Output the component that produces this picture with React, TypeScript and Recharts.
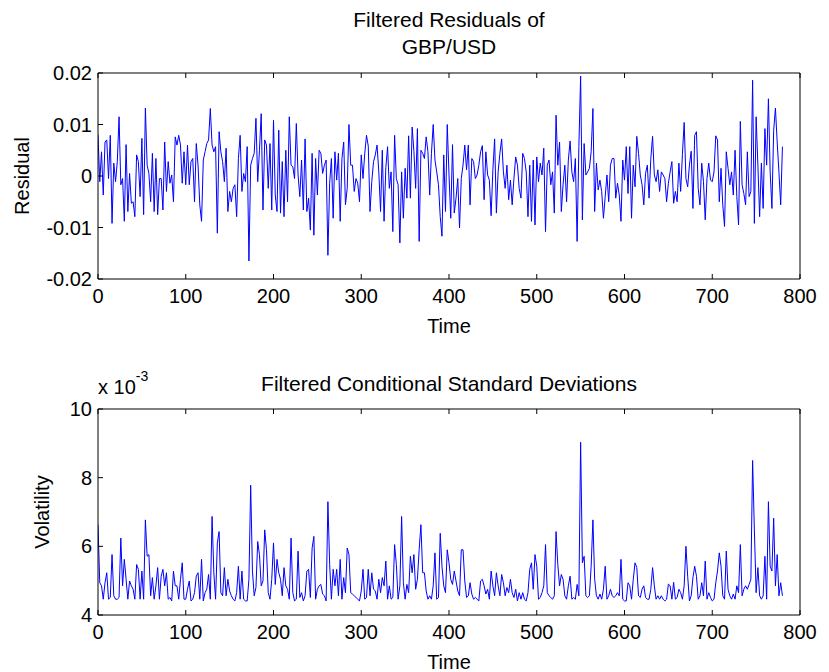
import { Line, LineChart, XAxis, YAxis } from "recharts";

// sampled every 2 time steps
const TIME_STEP = 2;
const timeTicks = [0, 100, 200, 300, 400, 500, 600, 700, 800];
const residualTicks = [-0.02, -0.01, 0, 0.01, 0.02];
const volTicks = [0.004, 0.006, 0.008, 0.01];

// residuals, in units of 1e-3
const residualMilli = [
  8, -1.1, 4.7, -3.7, 6.6, 7.0, -0.5, 7.9, -9.2, 2.5,
  -1.1, 2.8, 11.5, -1.7, -0.5, -8.8, 6.1, -6.9, 0.5, -5.3,
  -5.0, -7.9, 4.1, 2.8, -4.0, 7.3, -7.5, 13.2, 2.1, 0.5,
  -5.0, 4.4, -6.9, 3.4, -7.5, -0.5, -0.5, -6.6, 6.6, -3.0,
  2.8, -1.4, 0.2, -5.0, 7.6, 6.0, 7.9, 6.0, -1.4, 4.7,
  -1.7, 6.0, -1.7, 2.8, 3.4, -5.0, 6.3, 2.1, -5.6, -8.8,
  3.1, 4.7, 6.3, 7.0, 13.1, 6.0, 4.7, 5.7, -11.1, 8.6,
  4.7, 2.8, -1.1, 5.4, -6.9, -3.0, -5.0, -2.4, -1.7, -7.9,
  3.4, 7.9, -3.0, 0.5, -1.1, 5.7, -16.5, 2.1, 3.4, 4.4,
  11.2, -1.1, 5.0, 12.1, -6.6, 7.0, 6.0, -2.4, 6.3, -6.6,
  10.8, -3.7, -6.9, 8.9, -7.2, 2.8, -7.9, 5.0, -5.0, 11.5,
  2.1, 1.8, -0.5, 10.2, 0.2, -4.0, 3.1, -6.6, 7.2, -6.9,
  -4.3, -10.5, 4.4, -11.5, 3.4, -3.7, 5.0, 4.4, 0.5, 2.1,
  3.1, -15.4, -1.4, 3.4, -8.2, 4.7, -0.8, 4.4, -8.8, 3.4,
  6.6, -5.6, -2.4, 10.0, 2.1, 2.1, -3.0, -0.5, -1.4, -5.0,
  4.1, -0.5, 4.4, 7.9, 5.8, -6.9, -1.1, 2.8, 4.1, 6.0,
  0.8, -6.9, 5.0, -8.8, 1.6, 5.7, -2.4, 0.8, -10.8, 7.9,
  -0.5, -1.7, -13.0, 0.8, -8.2, 1.5, -4.3, 7.8, -4.3, 9.5,
  4.8, -2.4, 9.2, -12.7, 5.0, 4.4, 3.4, 7.6, 4.7, -3.7,
  4.4, 10.0, 3.1, 0.8, -1.7, -7.9, -11.7, 4.1, -6.9, 10.0,
  0.2, -8.2, 6.1, -7.2, -4.3, -0.5, -10.1, -0.5, 2.1, 6.0,
  1.2, 6.0, -5.6, 3.4, 2.8, -0.5, 0.2, 2.1, 4.7, 5.9,
  -4.6, 4.7, 0.2, -0.8, -7.7, 1.2, 7.2, -7.2, 0.8, 4.4,
  7.2, 0.8, -2.4, 2.1, -4.6, -0.8, -5.6, -0.5, 3.7, 2.1,
  -2.4, -4.3, 4.4, 3.4, 0.8, -7.9, 2.1, -8.8, 3.1, -9.5,
  3.7, -1.1, 2.5, 0.2, 5.4, -10.8, 2.1, 3.1, -1.7, 0.8,
  -7.2, 11.8, 2.1, 6.6, -6.9, -1.7, 2.1, -5.0, 3.1, 6.8,
  0.8, -1.1, 3.4, -12.7, 5.7, 19.4, -8.5, 6.3, 0.2, 0.8,
  1.5, 4.7, 13.1, -6.9, 2.5, -2.7, -0.8, -3.0, -8.2, -4.0,
  0.2, -5.0, 2.1, 3.4, 3.4, -4.3, -1.4, -3.7, -8.8, 3.1,
  -0.8, 5.7, -3.4, 5.7, -8.2, 2.1, -2.1, 7.7, 4.4, 0.2,
  -1.7, -5.6, 0.5, 2.1, -4.3, 3.4, 7.7, 0.2, -1.1, 1.2,
  -3.0, 0.8, 0.2, -0.5, -5.0, -1.4, 0.8, 2.8, -5.3, -3.0,
  -5.0, 2.5, -3.0, 4.2, 10.4, -0.5, -2.1, 2.1, 4.8, -6.3,
  7.9, 8.6, -2.4, -5.6, 2.5, -1.1, -8.5, -0.5, 2.5, -0.8,
  -1.1, 0.8, 7.8, 7.0, -5.0, 1.5, -5.6, -9.8, 4.7, 1.5,
  -1.7, 0.8, -3.7, 5.0, -4.0, -9.5, 10.6, -1.7, -3.4, -5.6,
  4.7, -4.0, -3.0, 18.6, -9.2, 11.5, 2.1, -7.9, 2.5, -6.3,
  9.2, 2.1, 15.0, 0.8, -6.3, 8.9, 13.2, 6.6, 0.7, -5.6, 5.7,
];

// conditional standard deviations, in units of 1e-3
const volMilli = [
  6.63, 4.94, 4.85, 4.46, 4.94, 5.23, 4.46, 4.51, 5.76, 4.56,
  4.46, 4.46, 4.51, 6.24, 4.85, 5.62, 5.04, 4.46, 4.99, 4.85,
  4.75, 4.46, 5.47, 5.33, 4.46, 5.28, 4.46, 6.77, 5.71, 5.76,
  4.56, 5.09, 4.46, 4.85, 5.38, 4.46, 5.13, 5.33, 4.85, 5.23,
  4.46, 4.51, 4.41, 5.28, 4.85, 4.85, 4.46, 5.04, 5.52, 4.46,
  4.46, 4.75, 4.99, 4.41, 4.46, 4.65, 5.13, 5.23, 4.46, 5.62,
  4.41, 4.65, 4.75, 5.18, 4.46, 6.87, 5.23, 4.46, 6.10, 6.43,
  4.65, 4.56, 5.38, 4.56, 5.04, 4.70, 4.56, 4.46, 4.41, 4.65,
  5.42, 4.46, 5.28, 4.46, 4.41, 4.41, 5.04, 7.78, 5.28, 4.56,
  4.80, 6.14, 5.76, 4.85, 4.99, 6.48, 5.90, 4.65, 4.46, 5.04,
  6.10, 4.89, 5.62, 5.23, 5.04, 4.56, 5.38, 4.85, 4.75, 4.46,
  6.24, 4.65, 4.41, 4.46, 5.86, 4.51, 4.65, 4.41, 4.56, 5.28,
  5.33, 4.51, 5.95, 6.29, 4.46, 4.75, 4.85, 4.89, 4.61, 4.56,
  4.41, 7.30, 5.47, 4.46, 5.33, 4.85, 5.33, 4.56, 5.62, 4.46,
  5.09, 4.65, 5.95, 5.76, 4.65, 4.61, 4.56, 4.51, 4.46, 4.41,
  4.70, 5.33, 4.46, 4.51, 5.33, 4.56, 5.23, 4.75, 4.70, 4.46,
  5.04, 4.65, 5.09, 4.85, 5.57, 4.46, 4.85, 4.46, 4.51, 6.05,
  5.47, 4.46, 4.85, 6.87, 4.94, 4.46, 4.89, 4.65, 5.71, 5.23,
  5.76, 4.75, 5.04, 5.90, 6.63, 5.23, 5.23, 4.70, 4.46, 4.56,
  4.46, 4.85, 5.81, 4.46, 4.51, 6.38, 5.42, 4.85, 4.65, 5.90,
  5.52, 5.04, 4.89, 5.28, 4.99, 4.70, 4.56, 5.90, 5.90, 4.99,
  4.51, 4.56, 4.94, 4.61, 4.46, 4.51, 4.46, 4.41, 4.99, 5.04,
  4.85, 4.61, 4.75, 4.46, 5.28, 4.85, 4.56, 5.23, 4.85, 4.56,
  5.18, 4.94, 4.56, 4.80, 4.65, 5.04, 4.65, 4.51, 4.75, 4.41,
  4.65, 4.46, 4.65, 4.46, 4.41, 4.65, 5.33, 5.52, 4.75, 5.76,
  5.42, 4.46, 4.51, 4.65, 4.85, 6.05, 4.65, 4.56, 4.51, 4.46,
  4.56, 6.43, 5.47, 4.85, 5.18, 5.04, 4.56, 4.46, 4.85, 5.13,
  4.46, 4.51, 4.46, 4.89, 4.56, 9.03, 5.52, 5.71, 4.56, 4.51,
  4.56, 5.42, 6.77, 5.04, 4.56, 4.46, 4.61, 4.46, 4.75, 5.42,
  4.46, 4.56, 4.75, 4.56, 4.51, 4.56, 4.65, 4.56, 5.62, 4.46,
  4.41, 4.41, 4.94, 4.85, 4.46, 5.04, 5.52, 5.38, 4.56, 4.51,
  4.75, 4.85, 4.51, 4.46, 4.46, 4.75, 5.38, 4.85, 4.46, 4.56,
  4.46, 4.56, 4.46, 4.41, 4.46, 4.90, 4.85, 4.46, 4.95, 4.46,
  4.51, 4.75, 4.65, 4.46, 4.85, 6.00, 5.13, 4.41, 4.56, 5.09,
  5.42, 5.13, 4.46, 4.56, 4.94, 4.56, 5.57, 4.46, 4.65, 4.51,
  4.41, 4.46, 4.94, 5.28, 5.81, 5.42, 4.56, 4.46, 5.86, 4.75,
  4.56, 4.46, 4.61, 4.46, 4.85, 4.65, 6.05, 4.56, 4.75, 4.85,
  4.75, 4.89, 5.04, 8.50, 6.48, 4.65, 5.38, 4.56, 4.46, 4.56,
  5.71, 4.46, 7.30, 5.42, 5.28, 6.82, 4.85, 5.76, 4.56, 4.94, 4.56,
];

const residualData = residualMilli.map((v, i) => ({ t: i * TIME_STEP, v: v / 1000 }));
const volData = volMilli.map((v, i) => ({ t: i * TIME_STEP, v: v / 1000 }));

const FONT = "'Liberation Sans', Arial, Helvetica, sans-serif";
const FS = 20;
const TITLE_FS = 21;
const tickStyle = { fill: "#000", fontSize: FS, fontFamily: FONT };

const fmtResidual = (v: number) => (v === 0 ? "0" : String(Math.round(v * 100) / 100));
const fmtVol = (v: number) => String(Math.round(v * 1000));
const blank = () => "";

type PanelProps = {
  data: { t: number; v: number }[];
  domain: [number, number];
  yTicks: number[];
  fmt: (v: number) => string;
};

function Panel({ data, domain, yTicks, fmt }: PanelProps) {
  return (
    <LineChart
      width={829}
      height={320}
      data={data}
      margin={{ top: 72, right: 28, left: 0, bottom: 11 }}
    >
      <XAxis
        type="number"
        dataKey="t"
        domain={[0, 800]}
        ticks={timeTicks}
        allowDataOverflow
        height={30}
        tickSize={-5}
        tickMargin={15}
        stroke="#000"
        tick={tickStyle}
        interval={0}
      />
      <XAxis
        xAxisId="top"
        orientation="top"
        type="number"
        dataKey="t"
        domain={[0, 800]}
        ticks={timeTicks}
        height={1}
        tickSize={-5}
        tickFormatter={blank}
        stroke="#000"
        interval={0}
      />
      <YAxis
        type="number"
        domain={domain}
        ticks={yTicks}
        allowDataOverflow
        width={98}
        tickSize={-5}
        tickMargin={11}
        tickFormatter={fmt}
        stroke="#000"
        tick={tickStyle}
        interval={0}
      />
      <YAxis
        yAxisId="right"
        orientation="right"
        type="number"
        domain={domain}
        ticks={yTicks}
        width={1}
        tickSize={-5}
        tickFormatter={blank}
        stroke="#000"
        interval={0}
      />
      <Line
        type="linear"
        dataKey="v"
        stroke="#0000ff"
        strokeWidth={1}
        dot={false}
        isAnimationActive={false}
      />
    </LineChart>
  );
}

const textBase: React.CSSProperties = {
  position: "absolute",
  fontFamily: FONT,
  fontSize: FS,
  color: "#000",
  whiteSpace: "nowrap",
  lineHeight: 1,
  transform: "translate(-50%, -50%)",
};

export default function App() {
  return (
    <div
      style={{
        position: "absolute",
        left: 0,
        top: 0,
        width: 829,
        height: 672,
        background: "#fff",
        overflow: "hidden",
      }}
    >
      <div style={{ position: "absolute", left: 0, top: 0 }}>
        <Panel data={residualData} domain={[-0.02, 0.02]} yTicks={residualTicks} fmt={fmtResidual} />
      </div>
      <div style={{ position: "absolute", left: 0, top: 336 }}>
        <Panel data={volData} domain={[0.004, 0.01]} yTicks={volTicks} fmt={fmtVol} />
      </div>

      <div style={{ ...textBase, fontSize: TITLE_FS, left: 449, top: 19 }}>Filtered Residuals of</div>
      <div style={{ ...textBase, fontSize: TITLE_FS, left: 449, top: 46 }}>GBP/USD</div>
      <div style={{ ...textBase, left: 449, top: 326 }}>Time</div>
      <div style={{ ...textBase, left: 22, top: 176, transform: "translate(-50%, -50%) rotate(-90deg)" }}>
        Residual
      </div>

      <div style={{ ...textBase, fontSize: TITLE_FS, left: 449, top: 383 }}>
        Filtered Conditional Standard Deviations
      </div>
      <div style={{ ...textBase, left: 98, top: 387, transform: "translate(0, -50%)" }}>
        x 10<sup style={{ fontSize: 14, verticalAlign: "top", position: "relative", top: -8 }}>-3</sup>
      </div>
      <div style={{ ...textBase, left: 449, top: 662 }}>Time</div>
      <div style={{ ...textBase, left: 42, top: 512, transform: "translate(-50%, -50%) rotate(-90deg)" }}>
        Volatility
      </div>
    </div>
  );
}
